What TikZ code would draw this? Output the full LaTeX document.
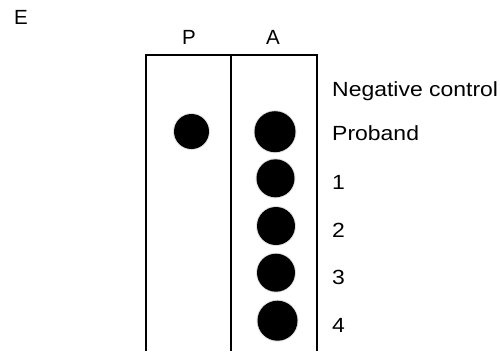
\documentclass[tikz,border=0pt]{standalone}
\usepackage{fontspec}
\setmainfont{Liberation Sans}
\begin{document}
\begin{tikzpicture}[x=1pt,y=-1pt,
  frameline/.style={line width=2pt, black},
  lbl/.style={font=\fontsize{20.5}{24}\selectfont, inner sep=0pt, anchor=base west, xscale=1.12},
  hdr/.style={font=\fontsize{20.5}{24}\selectfont, inner sep=0pt, anchor=base},
  spot/.style={circle, fill=black, inner sep=0pt, minimum size=#1,
     preaction={draw=black!12, line width=2pt}}
]
\useasboundingbox (0,0) rectangle (500,351);
% frame
\coordinate (bl) at (146,351);
\coordinate (tl) at (146,54.5);
\coordinate (tm) at (231,54.5);
\coordinate (bm) at (231,351);
\coordinate (tr) at (316.5,54.5);
\coordinate (br) at (316.5,351);
\draw[frameline] (bl) -- (tl) -- (tr) -- (br);
\draw[frameline] (tm) -- (bm);
% headers
\node[hdr] (E) at (21,24.5) {E};
\node[hdr] (P) at (189,44.5) {P};
\node[hdr] (A) at (273,44.5) {A};
% spots
\node[spot=35pt] (p0) at (191.5,131.5) {};
\node[spot=41pt] (a0) at (275,131.7) {};
\node[spot=38pt] (a1) at (275.5,178.3) {};
\node[spot=38pt] (a2) at (276,226) {};
\node[spot=38pt] (a3) at (276,272.7) {};
\node[spot=40pt] (a4) at (277.5,320.7) {};
% labels
\node[lbl] (l0) at (332,96.5) {Negative control};
\node[lbl] (l1) at (332,140.5) {Proband};
\node[lbl] (l2) at (332,189) {1};
\node[lbl] (l3) at (332,237.5) {2};
\node[lbl] (l4) at (332,284) {3};
\node[lbl] (l5) at (332,332.5) {4};
\end{tikzpicture}
\end{document}
